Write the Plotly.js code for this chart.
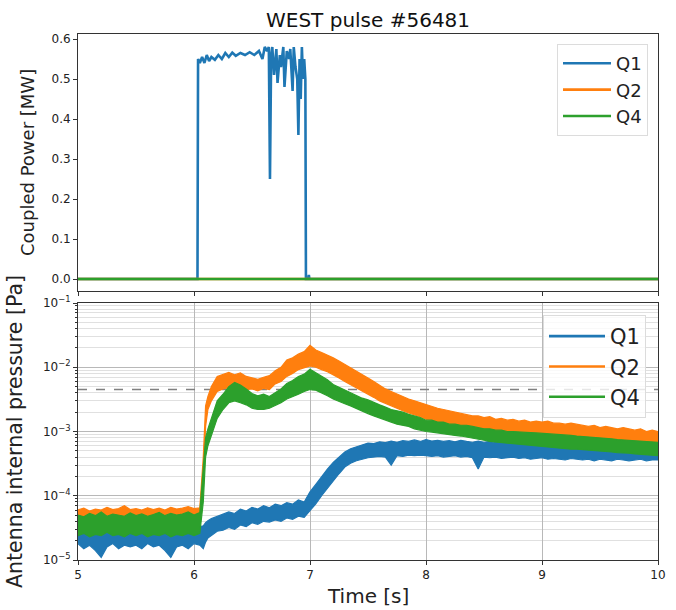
<!DOCTYPE html>
<html>
<head>
<meta charset="utf-8">
<script src="https://cdn.plot.ly/plotly-3.0.1.min.js"></script>
<style>html,body{margin:0;padding:0;background:#fff}#chart{width:676px;height:610px}</style>
</head>
<body>
<div id="chart"></div>
<script>
// ---------- Coupled power (top panel) ----------
const tPow = [5.0, 6.03, 6.035, 6.05, 6.07, 6.09, 6.11, 6.13, 6.15, 6.18, 6.21, 6.24, 6.27, 6.30, 6.33, 6.36, 6.40, 6.44, 6.48, 6.52, 6.56, 6.59, 6.61, 6.63, 6.645, 6.655, 6.665, 6.675, 6.69, 6.71, 6.72, 6.74, 6.75, 6.77, 6.78, 6.80, 6.82, 6.83, 6.85, 6.86, 6.875, 6.89, 6.90, 6.91, 6.92, 6.93, 6.94, 6.95, 6.96, 6.965, 6.985, 6.99, 6.995, 10.0];
const powQ1 = [0, 0, 0.55, 0.54, 0.555, 0.54, 0.56, 0.545, 0.555, 0.548, 0.56, 0.55, 0.565, 0.555, 0.566, 0.558, 0.565, 0.56, 0.567, 0.56, 0.57, 0.55, 0.58, 0.57, 0.58, 0.25, 0.56, 0.58, 0.51, 0.575, 0.49, 0.56, 0.53, 0.58, 0.48, 0.57, 0.55, 0.575, 0.47, 0.58, 0.53, 0.50, 0.36, 0.55, 0.45, 0.58, 0.50, 0.55, 0.50, 0.0, 0.0, 0.01, 0.0, 0.0];
const tPowFlat = [5.0, 10.0];
const powQ2 = [0, 0];
const powQ4 = [0, 0];

// ---------- Antenna pressure (bottom panel): noise envelope low / high ----------
const tPr = [
  5.00,5.05,5.10,5.15,5.20,5.25,5.30,5.35,5.40,5.45,
  5.50,5.55,5.60,5.65,5.70,5.75,5.80,5.85,5.90,5.95,
  6.00,6.05,
  6.08,6.10,6.12,6.15,
  6.20,6.25,6.30,6.35,6.40,6.45,6.50,6.55,6.60,6.65,
  6.70,6.75,6.80,6.85,6.90,6.95,7.00,7.05,7.10,7.15,
  7.20,7.25,7.30,7.35,7.40,7.45,7.50,7.55,7.60,7.65,
  7.70,7.75,7.80,7.85,7.90,7.95,8.00,8.05,8.10,8.15,
  8.20,8.25,8.30,8.35,8.40,8.45,8.50,8.55,8.60,8.65,
  8.70,8.75,8.80,8.85,8.90,8.95,9.00,9.05,9.10,9.15,
  9.20,9.25,9.30,9.35,9.40,9.45,9.50,9.55,9.60,9.65,
  9.70,9.75,9.80,9.85,9.90,9.95,10.00];

const q1Lo = [
  1.8e-5,1.5e-5,1.7e-5,1.4e-5,1.1e-5,1.6e-5,1.8e-5,1.5e-5,1.7e-5,1.6e-5,
  1.7e-5,1.5e-5,1.8e-5,1.6e-5,1.7e-5,1.4e-5,1.1e-5,1.6e-5,1.7e-5,1.5e-5,
  1.8e-5,1.7e-5,
  1.5e-5,1.9e-5,2.2e-5,2.4e-5,
  2.8e-5,2.9e-5,3.2e-5,3.0e-5,3.5e-5,3.3e-5,3.8e-5,3.6e-5,4.0e-5,3.9e-5,
  4.2e-5,4.0e-5,4.5e-5,4.3e-5,4.8e-5,4.6e-5,5.8e-5,7.5e-5,1.0e-4,1.3e-4,
  1.7e-4,2.2e-4,2.8e-4,3.2e-4,3.5e-4,3.7e-4,3.9e-4,4.0e-4,4.1e-4,4.0e-4,
  3.0e-4,4.2e-4,4.1e-4,4.3e-4,4.2e-4,4.3e-4,4.2e-4,4.1e-4,4.2e-4,4.0e-4,
  4.1e-4,4.2e-4,4.0e-4,4.1e-4,3.9e-4,2.6e-4,4.0e-4,3.9e-4,4.0e-4,3.8e-4,
  3.9e-4,4.0e-4,3.8e-4,3.9e-4,3.7e-4,3.8e-4,3.9e-4,3.7e-4,3.8e-4,3.7e-4,
  3.6e-4,3.8e-4,3.7e-4,3.6e-4,3.7e-4,3.5e-4,3.7e-4,3.6e-4,3.5e-4,3.7e-4,
  3.6e-4,3.5e-4,3.6e-4,3.7e-4,3.5e-4,3.6e-4,3.6e-4];
const q1Hi = [
  3.3e-5,3.0e-5,3.5e-5,3.1e-5,3.2e-5,3.4e-5,3.0e-5,3.3e-5,3.1e-5,3.4e-5,
  3.2e-5,3.0e-5,3.4e-5,3.1e-5,3.3e-5,3.0e-5,3.2e-5,3.4e-5,3.1e-5,3.2e-5,
  3.1e-5,3.3e-5,
  3.4e-5,3.8e-5,4.1e-5,4.4e-5,
  4.8e-5,5.2e-5,5.6e-5,5.3e-5,6.2e-5,5.8e-5,6.6e-5,6.2e-5,7.0e-5,6.5e-5,
  7.4e-5,7.0e-5,7.8e-5,7.4e-5,8.6e-5,8.0e-5,1.15e-4,1.5e-4,2.0e-4,2.6e-4,
  3.3e-4,4.0e-4,4.8e-4,5.4e-4,5.8e-4,6.3e-4,6.6e-4,6.5e-4,6.9e-4,6.7e-4,
  7.1e-4,6.8e-4,7.2e-4,7.0e-4,7.4e-4,7.0e-4,7.5e-4,7.1e-4,7.3e-4,7.0e-4,
  7.2e-4,6.9e-4,7.3e-4,7.0e-4,6.8e-4,7.1e-4,6.8e-4,7.0e-4,6.7e-4,6.9e-4,
  6.6e-4,6.9e-4,6.5e-4,6.8e-4,6.4e-4,6.6e-4,6.5e-4,6.3e-4,6.5e-4,6.2e-4,
  6.4e-4,6.1e-4,6.3e-4,6.0e-4,6.2e-4,5.9e-4,6.1e-4,5.8e-4,6.0e-4,5.7e-4,
  5.9e-4,5.6e-4,5.8e-4,5.5e-4,5.7e-4,5.4e-4,5.5e-4];

const q2Lo = [
  3.8e-5,4.0e-5,3.7e-5,3.9e-5,4.1e-5,3.8e-5,4.0e-5,3.9e-5,3.7e-5,4.0e-5,
  3.8e-5,4.0e-5,3.9e-5,3.7e-5,4.0e-5,3.8e-5,3.9e-5,4.1e-5,3.8e-5,4.0e-5,
  3.9e-5,4.0e-5,
  1.5e-4,1.2e-3,2.2e-3,3.0e-3,
  4.2e-3,4.6e-3,4.8e-3,4.5e-3,4.8e-3,4.5e-3,4.6e-3,4.3e-3,4.7e-3,4.5e-3,
  5.5e-3,6.0e-3,7.2e-3,8.0e-3,9.2e-3,9.8e-3,1.05e-2,1.0e-2,9.2e-3,8.5e-3,
  7.6e-3,6.8e-3,6.0e-3,5.4e-3,4.8e-3,4.2e-3,3.8e-3,3.4e-3,3.0e-3,2.7e-3,
  2.5e-3,2.3e-3,2.1e-3,1.95e-3,1.8e-3,1.7e-3,1.55e-3,1.5e-3,1.4e-3,1.35e-3,
  1.3e-3,1.25e-3,1.2e-3,1.15e-3,1.1e-3,1.05e-3,1.0e-3,1.0e-3,9.6e-4,9.5e-4,
  9.3e-4,9.2e-4,9.0e-4,9.0e-4,8.8e-4,8.8e-4,8.5e-4,8.5e-4,8.3e-4,8.3e-4,
  8.1e-4,8.0e-4,7.9e-4,7.9e-4,7.7e-4,7.6e-4,7.5e-4,7.5e-4,7.3e-4,7.3e-4,
  7.2e-4,7.1e-4,7.0e-4,7.0e-4,6.9e-4,6.8e-4,6.8e-4];
const q2Hi = [
  6.0e-5,6.4e-5,5.8e-5,6.2e-5,6.0e-5,6.6e-5,6.1e-5,6.3e-5,7.0e-5,6.1e-5,
  6.3e-5,6.0e-5,6.5e-5,6.1e-5,6.4e-5,6.0e-5,6.6e-5,6.2e-5,6.4e-5,6.8e-5,
  6.3e-5,6.5e-5,
  4.0e-4,2.5e-3,3.5e-3,5.0e-3,
  7.2e-3,7.8e-3,8.3e-3,7.6e-3,8.2e-3,7.2e-3,6.8e-3,6.5e-3,7.0e-3,7.4e-3,
  8.8e-3,1.0e-2,1.3e-2,1.4e-2,1.6e-2,1.75e-2,2.2e-2,1.85e-2,1.7e-2,1.55e-2,
  1.4e-2,1.25e-2,1.1e-2,9.8e-3,8.6e-3,7.6e-3,6.8e-3,6.0e-3,5.2e-3,4.6e-3,
  4.2e-3,3.8e-3,3.5e-3,3.2e-3,3.0e-3,2.8e-3,2.6e-3,2.45e-3,2.3e-3,2.2e-3,
  2.1e-3,2.0e-3,1.9e-3,1.85e-3,1.75e-3,1.75e-3,1.65e-3,1.7e-3,1.55e-3,1.6e-3,
  1.5e-3,1.55e-3,1.45e-3,1.5e-3,1.4e-3,1.45e-3,1.4e-3,1.45e-3,1.35e-3,1.35e-3,
  1.3e-3,1.35e-3,1.3e-3,1.25e-3,1.2e-3,1.25e-3,1.15e-3,1.2e-3,1.15e-3,1.1e-3,
  1.15e-3,1.1e-3,1.05e-3,1.1e-3,1.0e-3,1.05e-3,1.0e-3];

const q4Lo = [
  2.4e-5,2.6e-5,2.3e-5,2.5e-5,2.4e-5,2.7e-5,2.4e-5,2.5e-5,2.3e-5,2.6e-5,
  2.4e-5,2.6e-5,2.3e-5,2.5e-5,2.4e-5,2.6e-5,2.3e-5,2.5e-5,2.4e-5,2.6e-5,
  2.4e-5,2.6e-5,
  8.0e-5,4.0e-4,6.0e-4,9.0e-4,
  1.6e-3,2.2e-3,2.8e-3,3.0e-3,2.8e-3,2.6e-3,2.3e-3,2.2e-3,2.2e-3,2.3e-3,
  2.5e-3,2.8e-3,3.2e-3,3.5e-3,3.8e-3,4.2e-3,4.5e-3,4.4e-3,4.0e-3,3.6e-3,
  3.2e-3,2.9e-3,2.7e-3,2.5e-3,2.3e-3,2.1e-3,1.9e-3,1.75e-3,1.6e-3,1.5e-3,
  1.4e-3,1.3e-3,1.25e-3,1.2e-3,1.1e-3,1.05e-3,1.0e-3,9.8e-4,9.5e-4,9.2e-4,
  9.0e-4,8.7e-4,8.5e-4,8.2e-4,8.0e-4,7.6e-4,7.3e-4,7.0e-4,6.9e-4,6.7e-4,
  6.6e-4,6.5e-4,6.3e-4,6.2e-4,6.1e-4,6.0e-4,5.8e-4,5.7e-4,5.6e-4,5.5e-4,
  5.4e-4,5.3e-4,5.3e-4,5.2e-4,5.1e-4,5.0e-4,5.0e-4,4.9e-4,4.8e-4,4.7e-4,
  4.6e-4,4.6e-4,4.5e-4,4.4e-4,4.4e-4,4.3e-4,4.2e-4];
const q4Hi = [
  5.0e-5,4.7e-5,5.3e-5,4.9e-5,5.6e-5,4.8e-5,5.2e-5,5.0e-5,4.8e-5,5.4e-5,
  4.9e-5,5.2e-5,4.8e-5,5.1e-5,5.5e-5,4.9e-5,5.3e-5,5.0e-5,5.2e-5,5.6e-5,
  5.0e-5,5.5e-5,
  2.5e-4,8.0e-4,1.1e-3,1.6e-3,
  3.0e-3,3.8e-3,5.0e-3,5.8e-3,5.3e-3,4.6e-3,3.9e-3,3.6e-3,3.8e-3,3.5e-3,
  4.0e-3,4.6e-3,5.6e-3,6.2e-3,7.2e-3,7.8e-3,9.3e-3,8.2e-3,7.4e-3,6.4e-3,
  5.4e-3,4.9e-3,4.4e-3,4.0e-3,3.6e-3,3.3e-3,3.1e-3,2.8e-3,2.6e-3,2.4e-3,
  2.2e-3,2.1e-3,2.0e-3,1.85e-3,1.75e-3,1.65e-3,1.5e-3,1.5e-3,1.4e-3,1.4e-3,
  1.3e-3,1.3e-3,1.25e-3,1.25e-3,1.2e-3,1.15e-3,1.1e-3,1.1e-3,1.05e-3,1.05e-3,
  1.0e-3,1.0e-3,9.8e-4,9.8e-4,9.6e-4,9.5e-4,9.4e-4,9.2e-4,9.0e-4,9.0e-4,
  8.8e-4,8.7e-4,8.5e-4,8.4e-4,8.2e-4,8.1e-4,8.0e-4,7.8e-4,7.7e-4,7.5e-4,
  7.4e-4,7.3e-4,7.2e-4,7.0e-4,6.9e-4,6.9e-4,6.8e-4];

const pressureLimit = 4.5e-3;
const limitT = [5.0, 10.0];

const seriesNames = ['Q1', 'Q2', 'Q4'];
const colors = ['#1f77b4', '#ff7f0e', '#2ca02c'];
const xTicks = [5, 6, 7, 8, 9, 10];
const logTicks = [1e-5, 1e-4, 1e-3, 1e-2, 1e-1];
const logTickText = ['10<sup>−5</sup>', '10<sup>−4</sup>', '10<sup>−3</sup>', '10<sup>−2</sup>', '10<sup>−1</sup>'];

// ---------- traces ----------
const FONT = 'DejaVu Sans, sans-serif';
const traces = [];

// top panel
const powY = [powQ1, powQ2, powQ4];
const powX = [tPow, tPowFlat, tPowFlat];
for (let i = 0; i < 3; i++) {
  traces.push({
    x: powX[i], y: powY[i], xaxis: 'x2', yaxis: 'y2', type: 'scatter', mode: 'lines',
    name: seriesNames[i], legend: 'legend',
    line: {color: colors[i], width: 2.6}, hoverinfo: 'skip'
  });
}

// bottom panel: dashed reference level first (below)
traces.push({
  x: limitT, y: [pressureLimit, pressureLimit], xaxis: 'x', yaxis: 'y', type: 'scatter', mode: 'lines',
  line: {color: '#808080', width: 1.6, dash: 'dash'}, showlegend: false, hoverinfo: 'skip'
});

const lows = [q1Lo, q2Lo, q4Lo];
const highs = [q1Hi, q2Hi, q4Hi];
const warn = [];
for (let i = 0; i < 3; i++) {
  if (lows[i].length !== tPr.length || highs[i].length !== tPr.length) warn.push(seriesNames[i] + ' ' + lows[i].length + '/' + highs[i].length + ' vs ' + tPr.length);
  const xs = tPr.concat(tPr.slice().reverse());
  const ys = highs[i].concat(lows[i].slice().reverse());
  traces.push({
    x: xs, y: ys, xaxis: 'x', yaxis: 'y', type: 'scatter', mode: 'lines',
    fill: 'toself', fillcolor: colors[i],
    line: {color: colors[i], width: 1.2}, showlegend: false, hoverinfo: 'skip'
  });
}
// legend entries for bottom panel
for (let i = 0; i < 3; i++) {
  traces.push({
    x: [null], y: [null], xaxis: 'x', yaxis: 'y', type: 'scatter', mode: 'lines',
    name: seriesNames[i], legend: 'legend2',
    line: {color: colors[i], width: 2.6}
  });
}

// ---------- layout ----------
const L = 78, R = 18, T = 34, B = 50;
const W = 676, H = 610;
const plotW = W - L - R, plotH = H - T - B;
const px2x = px => (px - L) / plotW;
const px2y = py => (H - B - py) / plotH;

const axisCommon = {
  showline: true, linecolor: '#333', linewidth: 1, mirror: true,
  ticks: 'outside', ticklen: 4, tickwidth: 1, tickcolor: '#333',
  tickfont: {family: FONT, size: 12, color: '#222'}, zeroline: false
};

const annotations = [
  {text: 'WEST pulse #56481', xref: 'paper', yref: 'paper', x: 0.5, y: px2y(20),
   xanchor: 'center', yanchor: 'middle', showarrow: false, font: {family: FONT, size: 20, color: '#111'}},
  {text: 'Coupled Power [MW]', xref: 'paper', yref: 'paper', x: px2x(27), y: px2y(163), textangle: -90,
   xanchor: 'center', yanchor: 'middle', showarrow: false, font: {family: FONT, size: 18, color: '#222'}},
  {text: 'Antenna internal pressure [Pa]', xref: 'paper', yref: 'paper', x: px2x(15), y: px2y(432), textangle: -90,
   xanchor: 'center', yanchor: 'middle', showarrow: false, font: {family: FONT, size: 20.5, color: '#222'}},
  {text: 'Time [s]', xref: 'paper', yref: 'paper', x: 0.5, y: px2y(596),
   xanchor: 'center', yanchor: 'middle', showarrow: false, font: {family: FONT, size: 20, color: '#222'}}
];
if (warn.length) annotations.push({text: warn.join('; '), xref: 'paper', yref: 'paper', x: 0.3, y: 0.3, showarrow: false, font: {size: 14, color: 'red'}});

const layout = {
  width: W, height: H,
  margin: {l: L, r: R, t: T, b: B},
  paper_bgcolor: '#fff', plot_bgcolor: '#fff',
  font: {family: FONT, color: '#222'},
  showlegend: true,
  xaxis: Object.assign({}, axisCommon, {
    domain: [0, 1], anchor: 'y', range: [5, 10], tickmode: 'array', tickvals: xTicks,
    showgrid: true, gridcolor: '#b8b8b8', gridwidth: 1
  }),
  yaxis: Object.assign({}, axisCommon, {
    domain: [0, px2y(303)], anchor: 'x', type: 'log', range: [-5, -1],
    tickmode: 'array', tickvals: logTicks, ticktext: logTickText,
    showgrid: true, gridcolor: '#b8b8b8', gridwidth: 1,
    minor: {showgrid: true, gridcolor: '#e0e0e0', gridwidth: 1, ticks: 'outside', ticklen: 2, tickcolor: '#333', dtick: 'D1'}
  }),
  xaxis2: Object.assign({}, axisCommon, {
    domain: [0, 1], anchor: 'y2', range: [5, 10], tickmode: 'array', tickvals: xTicks,
    showticklabels: false, showgrid: false
  }),
  yaxis2: Object.assign({}, axisCommon, {
    domain: [px2y(291), 1], anchor: 'x2', range: [-0.03, 0.6125],
    tickmode: 'array', tickvals: [0, 0.1, 0.2, 0.3, 0.4, 0.5, 0.6],
    ticktext: ['0.0', '0.1', '0.2', '0.3', '0.4', '0.5', '0.6'], showgrid: false
  }),
  legend: {
    x: px2x(557), y: px2y(44), xanchor: 'left', yanchor: 'top',
    bgcolor: 'rgba(255,255,255,0.85)', bordercolor: '#dcdcdc', borderwidth: 1,
    font: {family: FONT, size: 18, color: '#222'}, itemwidth: 48, tracegroupgap: 0
  },
  legend2: {
    x: px2x(543), y: px2y(315), xanchor: 'left', yanchor: 'top',
    bgcolor: 'rgba(255,255,255,0.8)', bordercolor: '#dcdcdc', borderwidth: 1,
    font: {family: FONT, size: 21, color: '#222'}, itemwidth: 56, tracegroupgap: 0
  },
  annotations: annotations
};

Plotly.newPlot('chart', traces, layout, {displayModeBar: false, staticPlot: true});
</script>
</body>
</html>
